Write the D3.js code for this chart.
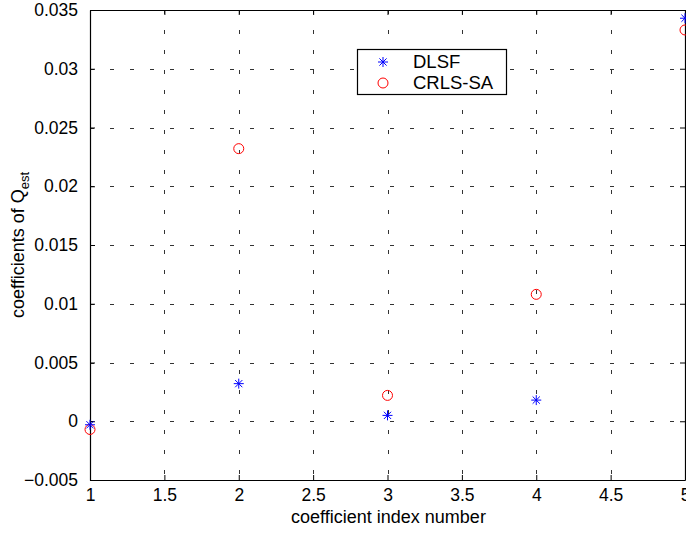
<!DOCTYPE html>
<html>
<head>
<meta charset="utf-8">
<script src="https://cdn.jsdelivr.net/npm/d3@7"></script>
<style>
  body { margin: 0; background: #fff; }
  svg { display: block; font-family: "Liberation Sans", Arial, sans-serif; }
</style>
</head>
<body>
<div id="chart"></div>
<script>
// coefficient index and estimated values
const idx = [1, 2, 3, 4, 5];
const dlsf = [-0.0003, 0.0032, 0.0005, 0.0018, 0.0343];
const crls = [-0.0007, 0.0232, 0.0022, 0.0108, 0.0333];
const xTicks = [1, 1.5, 2, 2.5, 3, 3.5, 4, 4.5, 5];
const yTicks = [-0.005, 0, 0.005, 0.01, 0.015, 0.02, 0.025, 0.03, 0.035];
const seriesNames = ["DLSF", "CRLS-SA"];

const width = 686, height = 536;
const m = {left: 90, right: 1, top: 10, bottom: 56};

const svg = d3.select('#chart').append('svg')
    .attr('width', width)
    .attr('height', height);

const x = d3.scaleLinear().domain([1, 5]).range([m.left, width - m.right]);
const y = d3.scaleLinear().domain([-0.005, 0.035]).range([height - m.bottom, m.top]);

// grid (dotted)
const grid = svg.append('g').attr('class', 'grid')
    .attr('stroke', '#333').attr('stroke-width', 1)
    .attr('stroke-dasharray', '4,16');
grid.selectAll('.gx').data(xTicks.slice(1, -1)).enter().append('line')
    .attr('x1', d => Math.round(x(d)) + 0.5).attr('x2', d => Math.round(x(d)) + 0.5)
    .attr('y1', y(0.035)).attr('y2', y(-0.005));
grid.selectAll('.gy').data(yTicks.slice(1, -1)).enter().append('line')
    .attr('y1', d => Math.round(y(d)) + 0.5).attr('y2', d => Math.round(y(d)) + 0.5)
    .attr('x1', x(1)).attr('x2', x(5));

const fmt = d => d3.format('')(+d.toFixed(4));

// axes with inward ticks
const gx = svg.append('g').attr('transform', `translate(0,${y(-0.005)})`)
    .call(d3.axisBottom(x).tickValues(xTicks).tickSizeInner(-5).tickSizeOuter(0).tickPadding(9).tickFormat(fmt));
const gxTop = svg.append('g').attr('transform', `translate(0,${y(0.035)})`)
    .call(d3.axisTop(x).tickValues(xTicks).tickSizeInner(-5).tickSizeOuter(0).tickFormat(''));
const gy = svg.append('g').attr('transform', `translate(${x(1)},0)`)
    .call(d3.axisLeft(y).tickValues(yTicks).tickSizeInner(-5).tickSizeOuter(0).tickPadding(12).tickFormat(fmt));
const gyR = svg.append('g').attr('transform', `translate(${x(5)},0)`)
    .call(d3.axisRight(y).tickValues(yTicks).tickSizeInner(-5).tickSizeOuter(0).tickFormat(''));

[gx, gxTop, gy, gyR].forEach(g => {
    g.selectAll('path').attr('stroke', '#000').attr('stroke-width', 1.2);
    g.selectAll('line').attr('stroke', '#000');
    g.selectAll('text').attr('fill', '#000').style('font-size', '17.5px')
        .style('font-family', '"Liberation Sans", Arial, sans-serif');
});

// axis titles
svg.append('text')
    .attr('x', (x(1) + x(5)) / 2 + 1).attr('y', 523)
    .attr('text-anchor', 'middle')
    .style('font-size', '18px')
    .text('coefficient index number');

const yl = svg.append('text')
    .attr('transform', `translate(24,${(y(-0.005) + y(0.035)) / 2}) rotate(-90)`)
    .attr('text-anchor', 'middle')
    .style('font-size', '18px');
yl.append('tspan').text('coefficients of Q');
yl.append('tspan').attr('dy', 5).style('font-size', '13px').text('est');

// markers
function star(g, cx, cy, r) {
    const d = r * 0.72;
    g.append('path')
        .attr('d', `M${cx - r},${cy}H${cx + r}M${cx},${cy - r}V${cy + r}` +
            `M${cx - d},${cy - d}L${cx + d},${cy + d}M${cx - d},${cy + d}L${cx + d},${cy - d}`)
        .attr('stroke', '#0000ff').attr('stroke-width', 1).attr('fill', 'none');
}

const pts = svg.append('g').attr('class', 'points');
idx.forEach((d, i) => {
    pts.append('circle')
        .attr('cx', x(d)).attr('cy', y(crls[i])).attr('r', 5)
        .attr('fill', 'none').attr('stroke', '#ff0000').attr('stroke-width', 1);
});
idx.forEach((d, i) => star(pts, x(d), y(dlsf[i]), 5));

// legend
const lg = svg.append('g').attr('transform', 'translate(357,49)');
lg.append('rect').attr('x', 0.5).attr('y', 0.5).attr('width', 149).attr('height', 45)
    .attr('fill', '#fff').attr('stroke', '#000').attr('stroke-width', 1.2);
star(lg, 26, 13, 5);
lg.append('circle').attr('cx', 26).attr('cy', 34).attr('r', 5)
    .attr('fill', 'none').attr('stroke', '#ff0000');
lg.selectAll('.lt').data(seriesNames).enter().append('text')
    .attr('x', 56).attr('y', (d, i) => 19 + i * 21)
    .style('font-size', '18.5px')
    .text(d => d);
</script>
</body>
</html>
